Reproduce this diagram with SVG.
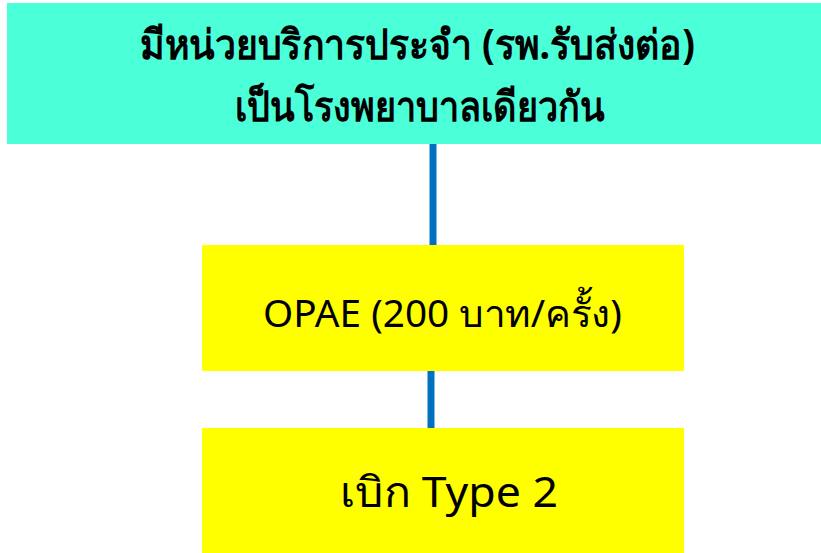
<svg xmlns="http://www.w3.org/2000/svg" width="821" height="553" viewBox="0 0 821 553">
<style>
.t{font-family:"Noto Sans","DejaVu Sans",sans-serif;text-anchor:middle;fill:#000}
.c{stroke:#0070C0;stroke-width:7;fill:none}
</style>
<rect width="821" height="553" fill="#fff"/>
<g id="connectors">
<line class="c" x1="433" y1="144" x2="433" y2="245"/>
<line class="c" x1="431" y1="371" x2="431" y2="428"/>
</g>
<g id="top">
<rect x="7" y="3" width="814" height="141" fill="#4BFFD9"/>
<text class="t" x="417.5" y="59" font-size="41" font-weight="bold" textLength="555" lengthAdjust="spacingAndGlyphs">มีหน่วยบริการประจำ (รพ.รับส่งต่อ)</text>
<text class="t" x="420" y="121" font-size="41" font-weight="bold" textLength="370" lengthAdjust="spacingAndGlyphs">เป็นโรงพยาบาลเดียวกัน</text>
</g>
<g id="opae">
<rect x="202" y="245" width="482" height="126" fill="#FFFF00"/>
<text class="t" x="442.5" y="327" font-size="38" textLength="359" lengthAdjust="spacingAndGlyphs">OPAE (200 บาท/ครั้ง)</text>
</g>
<g id="type2">
<rect x="202" y="428" width="482" height="125" fill="#FFFF00"/>
<text class="t" x="449" y="507" font-size="42" textLength="218" lengthAdjust="spacingAndGlyphs">เบิก Type 2</text>
</g>
</svg>
